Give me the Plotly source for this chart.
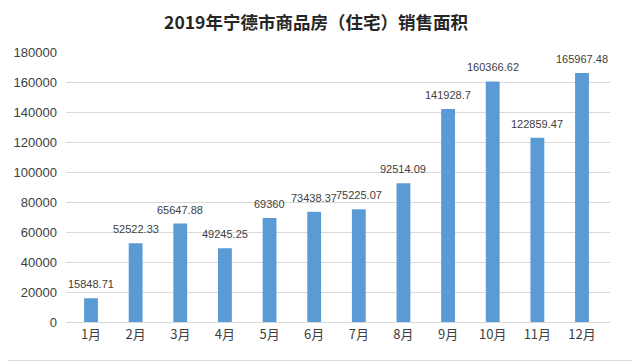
import plotly.graph_objects as go

months = ["1月", "2月", "3月", "4月", "5月", "6月", "7月", "8月", "9月", "10月", "11月", "12月"]
values = [15848.71, 52522.33, 65647.88, 49245.25, 69360, 73438.37, 75225.07,
          92514.09, 141928.7, 160366.62, 122859.47, 165967.48]
labels = ["15848.71", "52522.33", "65647.88", "49245.25", "69360", "73438.37", "75225.07",
          "92514.09", "141928.7", "160366.62", "122859.47", "165967.48"]
y_ticks = [0, 20000, 40000, 60000, 80000, 100000, 120000, 140000, 160000, 180000]
y_tick_text = [str(v) for v in y_ticks]

# page body has an 8px margin, so the figure is sized to fit the visible window
W, H = 632, 354
L, R, T, B = 58, 30, 44, 40
pw, ph = W - L - R, H - T - B

fig = go.Figure()
fig.add_trace(go.Bar(
    x=months, y=values,
    marker=dict(color="#5B9BD5", line=dict(width=0)),
    cliponaxis=False,
))

for m, v, t in zip(months, values, labels):
    fig.add_annotation(x=m, y=v, text=t, showarrow=False, yanchor="bottom", yshift=6,
                       font=dict(size=11, color="#404040", family="Liberation Sans"))

fig.update_layout(
    width=W, height=H,
    margin=dict(l=L, r=R, t=T, b=B),
    paper_bgcolor="white", plot_bgcolor="white",
    bargap=0.69,
    showlegend=False,
    title=dict(text="<b>2019年宁德市商品房（住宅）销售面积</b>", x=(316 - 8) / W, xanchor="center",
               y=1 - 15 / H, yanchor="middle",
               font=dict(size=17.5, color="#262626", family="Noto Sans CJK SC")),
    font=dict(family="Noto Sans CJK SC, Liberation Sans", color="#404040"),
    xaxis=dict(showgrid=False, showline=True, linecolor="#D9D9D9", linewidth=1,
               ticks="", tickfont=dict(size=13, color="#404040"), automargin=False),
    yaxis=dict(range=[0, 180000], tickvals=y_ticks, ticktext=y_tick_text, showgrid=True,
               gridcolor="#D9D9D9", gridwidth=1, zeroline=False, showline=False, ticks="",
               tickfont=dict(size=13, color="#404040", family="Liberation Sans, Noto Sans"),
               ticklabelstandoff=8, automargin=False),
)

# outer chart border (right and bottom edges fall inside the visible window)
fig.add_shape(type="rect", xref="paper", yref="paper",
              x0=(-8 - L) / pw, x1=(W - 1.5 - L) / pw,
              y0=-(H - 1.5 - T - ph) / ph, y1=1 + (T + 8) / ph,
              line=dict(color="#D9D9D9", width=1), fillcolor="rgba(0,0,0,0)", layer="below")

fig.write_html("out.html")
